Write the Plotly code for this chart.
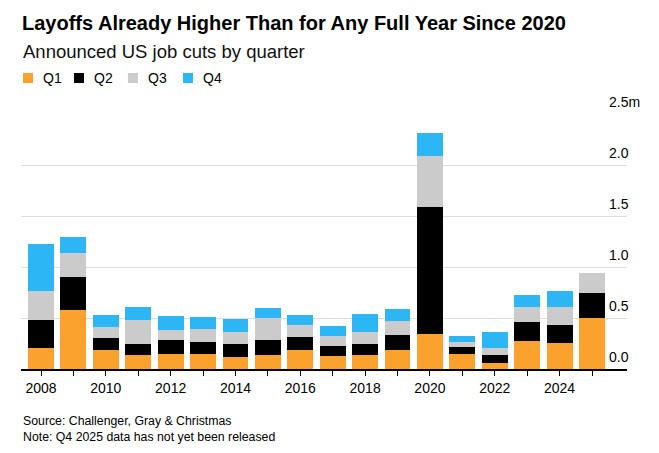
import plotly.graph_objects as go

# ---------------- data (millions of announced job cuts) ----------------
years = list(range(2008, 2026))
q1 = [0.203, 0.582, 0.183, 0.134, 0.144, 0.147, 0.121, 0.141, 0.183, 0.127,
      0.137, 0.190, 0.346, 0.147, 0.056, 0.271, 0.258, 0.500]
q2 = [0.274, 0.317, 0.118, 0.111, 0.140, 0.114, 0.124, 0.147, 0.131, 0.098,
      0.108, 0.140, 1.239, 0.065, 0.078, 0.187, 0.177, 0.245]
q3 = [0.288, 0.242, 0.114, 0.239, 0.102, 0.128, 0.121, 0.209, 0.121, 0.095,
      0.121, 0.137, 0.500, 0.053, 0.075, 0.147, 0.173, 0.199]
q4 = [0.460, 0.150, 0.114, 0.121, 0.137, 0.121, 0.121, 0.101, 0.091, 0.098,
      0.173, 0.125, 0.225, 0.055, 0.154, 0.117, 0.157, None]

series_names = ["Q1", "Q2", "Q3", "Q4"]
series_values = [q1, q2, q3, q4]
series_colors = ["#FAA12E", "#000000", "#CBCBCB", "#2DB6F5"]

y_tickvals = [0.0, 0.5, 1.0, 1.5, 2.0, 2.5]
y_ticktext = ["0.0", "0.5", "1.0", "1.5", "2.0", "2.5m"]
x_ticktext = [str(y) if y % 2 == 0 else "" for y in years]

title = "Layoffs Already Higher Than for Any Full Year Since 2020"
subtitle = "Announced US job cuts by quarter"
footer = "Source: Challenger, Gray & Christmas<br>Note: Q4 2025 data has not yet been released"

# ---------------- layout geometry (pixels) ----------------
W, H = 659, 453
L, R, T, B = 21, 627, 114, 369
PW, PH = R - L, B - T


def px(x):
    return (x - L) / PW


def py(y):
    return (B - y) / PH


FONT = "Liberation Sans, Arial, sans-serif"

fig = go.Figure()
for name, vals, col in zip(series_names, series_values, series_colors):
    fig.add_trace(go.Bar(x=years, y=vals, name=name, marker=dict(color=col, line=dict(width=0)),
                         showlegend=False))

annotations = []
# title / subtitle
annotations.append(dict(text=f"<b>{title}</b>", xref="paper", yref="paper", x=px(20), y=py(23),
                        xanchor="left", yanchor="middle", showarrow=False,
                        font=dict(size=20, color="#000000", family=FONT)))
annotations.append(dict(text=subtitle, xref="paper", yref="paper", x=px(21), y=py(51),
                        xanchor="left", yanchor="middle", showarrow=False,
                        font=dict(size=18.5, color="#111111", family=FONT)))
# legend (manual)
leg_sq_x = [23, 74, 128, 183]
shapes = []
for i, (name, col) in enumerate(zip(series_names, series_colors)):
    x0 = leg_sq_x[i]
    shapes.append(dict(type="rect", xref="paper", yref="paper", x0=px(x0), x1=px(x0 + 10),
                       y0=py(83), y1=py(73), fillcolor=col, line=dict(width=0)))
    annotations.append(dict(text=name, xref="paper", yref="paper", x=px(x0 + 18), y=py(78),
                            xanchor="left", yanchor="middle", showarrow=False,
                            font=dict(size=14, color="#000000", family=FONT)))
# y tick labels above gridlines
for v, t in zip(y_tickvals, y_ticktext):
    annotations.append(dict(text=t, xref="paper", yref="y", x=px(607), y=v, xanchor="left",
                            yanchor="bottom", yshift=2, showarrow=False,
                            font=dict(size=14, color="#000000", family=FONT)))
# footer
annotations.append(dict(text=footer, xref="paper", yref="paper", x=px(21), y=py(429),
                        xanchor="left", yanchor="middle", align="left", showarrow=False,
                        font=dict(size=12.3, color="#000000", family=FONT)))

fig.update_layout(
    width=W, height=H,
    margin=dict(l=L, r=W - R, t=T, b=H - B, pad=0),
    paper_bgcolor="white", plot_bgcolor="white",
    barmode="stack", bargap=0.2,
    font=dict(family=FONT, color="#000000"),
    annotations=annotations, shapes=shapes,
    showlegend=False,
)
fig.update_xaxes(
    range=[2007.383, 2026.08], tickmode="array", tickvals=years, ticktext=x_ticktext,
    showline=True, linecolor="#000000", linewidth=1.5,
    ticks="outside", ticklen=5, tickwidth=1, tickcolor="#000000",
    tickfont=dict(size=14, color="#000000", family=FONT),
    showgrid=False, zeroline=False, fixedrange=True,
)
fig.update_yaxes(
    range=[0, 2.5], tickmode="array", tickvals=y_tickvals, showticklabels=False,
    showgrid=True, gridcolor="#DDDDDD", gridwidth=1, zeroline=False, fixedrange=True,
)

fig.write_html("out.html")
